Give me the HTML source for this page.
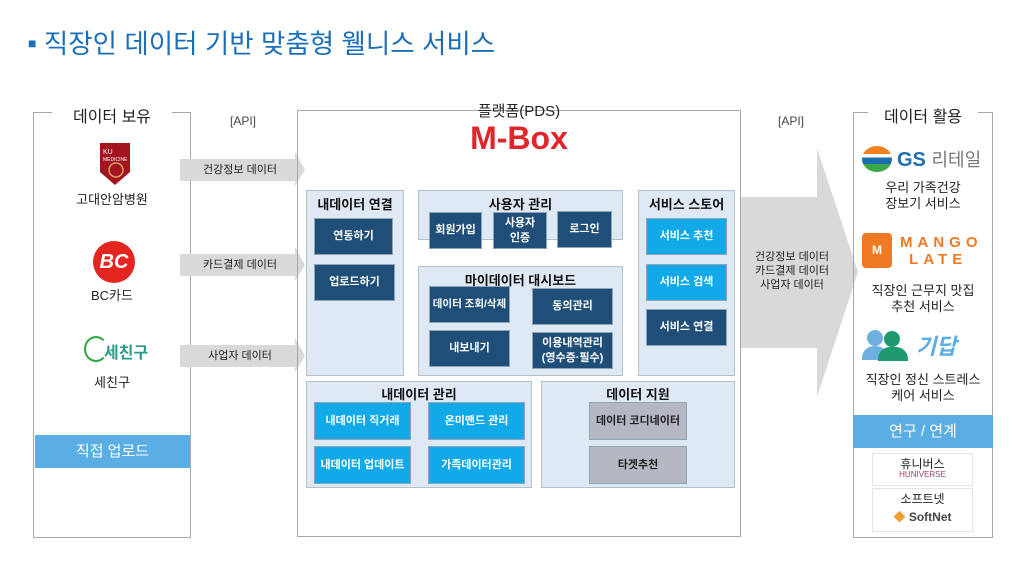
<!DOCTYPE html>
<html><head><meta charset="utf-8"><style>
*{margin:0;padding:0;box-sizing:border-box}
body{width:1024px;height:562px;background:#fff;position:relative;overflow:hidden;font-family:"Liberation Sans","Noto Sans CJK KR",sans-serif;color:#222}
.a{position:absolute}
.t{position:absolute;text-align:center;white-space:nowrap}
.box{position:absolute;border:1px solid #a8a8a8}
.pn{position:absolute;background:#dfe9f4;border:1px solid #b4c0cc}
.pt{position:absolute;left:0;right:0;text-align:center;font-size:13px;font-weight:bold;color:#111}
.b{position:absolute;display:flex;align-items:center;justify-content:center;text-align:center;color:#fff;font-size:11px;font-weight:bold;line-height:1.35;border:1px solid #8fa4b8}
.nv{background:#1f4e79}
.cy{background:#12a9e8}
.gr{background:#b3b8c3;color:#222}
</style></head><body>
<div class="a" style="left:28px;top:22px;font-size:26.5px;color:#1b6fb8;white-space:nowrap"><span style="font-size:14px;vertical-align:5px">■</span> 직장인 데이터 기반 맞춤형 웰니스 서비스</div>

<!-- left box -->
<div class="box" style="left:33px;top:112px;width:158px;height:426px"></div>
<div class="t" style="left:52px;top:103px;width:120px;background:#fff;font-size:16px">데이터 보유</div>
<svg class="a" style="left:99px;top:142px" width="32" height="44"><path d="M1 1H31V30L16 43L1 30Z" fill="#a3141e"/><text x="4" y="12" font-size="7" fill="#fff" font-family="Liberation Sans">KU</text><text x="4" y="19" font-size="5" fill="#fff" font-family="Liberation Sans">MEDICINE</text><circle cx="17" cy="28" r="7" fill="none" stroke="#d9a060" stroke-width="1.5"/></svg>
<div class="t" style="left:33px;top:189px;width:158px;font-size:13px">고대안암병원</div>
<div class="a" style="left:93px;top:241px;width:42px;height:42px;border-radius:50%;background:#e3261f;color:#fff;font-weight:bold;font-size:20px;text-align:center;line-height:42px;font-style:italic">BC</div>
<div class="t" style="left:33px;top:285px;width:158px;font-size:13px">BC카드</div>
<div class="a" style="left:84px;top:336px;width:24px;height:26px;border:2px solid #2aa63c;border-radius:50%;border-right-color:transparent"></div>
<div class="t" style="left:104px;top:339px;font-size:16px;font-weight:bold;color:#2a9a8a">세친구</div>
<div class="t" style="left:33px;top:372px;width:158px;font-size:13px">세친구</div>
<div class="t" style="left:35px;top:435px;width:155px;height:33px;line-height:33px;background:#5aaee3;color:#fff;font-size:15px">직접 업로드</div>

<!-- small arrows -->
<svg class="a" style="left:180px;top:150px" width="130" height="230">
<g fill="#d9d9d9"><path d="M0 9H115V2L125 20L115 36V31H0Z"/><path d="M0 104H115V97L125 115L115 131V126H0Z"/><path d="M0 195H115V188L125 206L115 222V217H0Z"/></g>
</svg>
<div class="t" style="left:180px;top:161px;width:120px;font-size:11px">건강정보 데이터</div>
<div class="t" style="left:180px;top:256px;width:120px;font-size:11px">카드결제 데이터</div>
<div class="t" style="left:180px;top:347px;width:120px;font-size:11px">사업자 데이터</div>
<div class="t" style="left:222px;top:114px;width:42px;font-size:12px;color:#444">[API]</div>
<div class="t" style="left:770px;top:114px;width:42px;font-size:12px;color:#444">[API]</div>

<!-- center box -->
<div class="box" style="left:297px;top:110px;width:444px;height:427px"></div>
<div class="t" style="left:297px;top:100px;width:444px;font-size:15px">플랫폼(PDS)</div>
<div class="t" style="left:297px;top:120px;width:444px;font-size:32px;font-weight:bold;color:#e0262b">M-Box</div>

<div class="pn" style="left:306px;top:190px;width:98px;height:186px"><div class="pt" style="top:3px">내데이터 연결</div></div>
<div class="b nv" style="left:314px;top:218px;width:79px;height:37px">연동하기</div>
<div class="b nv" style="left:314px;top:264px;width:81px;height:37px">업로드하기</div>

<div class="pn" style="left:418px;top:190px;width:205px;height:50px"><div class="pt" style="top:3px">사용자 관리</div></div>
<div class="b nv" style="left:429px;top:212px;width:53px;height:37px">회원가입</div>
<div class="b nv" style="left:493px;top:212px;width:54px;height:37px">사용자<br>인증</div>
<div class="b nv" style="left:557px;top:211px;width:55px;height:37px">로그인</div>

<div class="pn" style="left:418px;top:266px;width:205px;height:110px"><div class="pt" style="top:3px">마이데이터 대시보드</div></div>
<div class="b nv" style="left:429px;top:286px;width:81px;height:37px;font-size:10.5px">데이터 조회/삭제</div>
<div class="b nv" style="left:532px;top:288px;width:81px;height:37px">동의관리</div>
<div class="b nv" style="left:429px;top:330px;width:81px;height:37px">내보내기</div>
<div class="b nv" style="left:532px;top:332px;width:81px;height:37px">이용내역관리<br>(영수증·필수)</div>

<div class="pn" style="left:638px;top:190px;width:97px;height:186px"><div class="pt" style="top:3px">서비스 스토어</div></div>
<div class="b cy" style="left:646px;top:218px;width:81px;height:37px">서비스 추천</div>
<div class="b cy" style="left:646px;top:264px;width:81px;height:37px">서비스 검색</div>
<div class="b nv" style="left:646px;top:309px;width:81px;height:37px">서비스 연결</div>

<div class="pn" style="left:306px;top:381px;width:226px;height:107px"><div class="pt" style="top:2px">내데이터 관리</div></div>
<div class="b cy" style="left:314px;top:402px;width:97px;height:38px">내데이터 직거래</div>
<div class="b cy" style="left:428px;top:402px;width:97px;height:38px">온미맨드 관리</div>
<div class="b cy" style="left:314px;top:446px;width:97px;height:38px">내데이터 업데이트</div>
<div class="b cy" style="left:428px;top:446px;width:97px;height:38px">가족데이터관리</div>

<div class="pn" style="left:541px;top:381px;width:194px;height:107px"><div class="pt" style="top:2px">데이터 지원</div></div>
<div class="b gr" style="left:589px;top:402px;width:98px;height:38px">데이터 코디네이터</div>
<div class="b gr" style="left:589px;top:446px;width:98px;height:38px">타겟추천</div>

<!-- big arrow -->
<svg class="a" style="left:741px;top:145px" width="120" height="255"><path d="M0 52H76V3L117 127L76 252V203H0Z" fill="#d9d9d9"/></svg>
<div class="t" style="left:745px;top:250px;width:94px;font-size:11px;line-height:14px">건강정보 데이터<br>카드결제 데이터<br>사업자 데이터</div>

<!-- right box -->
<div class="box" style="left:853px;top:112px;width:140px;height:426px"></div>
<div class="t" style="left:868px;top:103px;width:110px;background:#fff;font-size:16px">데이터 활용</div>
<div class="a" style="left:862px;top:146px;width:30px;height:26px;border-radius:50%;background:linear-gradient(#f08020 30%,#fff 30%,#fff 45%,#1e6fb0 45%,#1e6fb0 70%,#3aa84a 70%)"></div>
<div class="t" style="left:897px;top:146px;font-size:20px;font-weight:bold;color:#1e6fb0">GS <span style="font-size:18px;font-weight:normal;color:#777">리테일</span></div>
<div class="t" style="left:853px;top:180px;width:140px;font-size:13px;line-height:16px">우리 가족건강<br>장보기 서비스</div>
<div class="a" style="left:862px;top:233px;width:30px;height:35px;background:#f07a23;border-radius:4px;color:#fff;font-size:12px;text-align:center;line-height:35px;font-weight:bold">M</div>
<div class="t" style="left:900px;top:234px;font-size:15px;letter-spacing:5px;color:#f07a23;line-height:17px;font-weight:bold;text-align:left">MANGO<br>&nbsp;LATE</div>
<div class="t" style="left:853px;top:283px;width:140px;font-size:13px;line-height:16px">직장인 근무지 맛집<br>추천 서비스</div>
<div class="a" style="left:867px;top:330px;width:16px;height:16px;border-radius:50%;background:#6cb0e0"></div>
<div class="a" style="left:862px;top:346px;width:26px;height:14px;border-radius:12px 12px 0 0;background:#6cb0e0"></div>
<div class="a" style="left:884px;top:331px;width:16px;height:16px;border-radius:50%;background:#1f9a6e"></div>
<div class="a" style="left:878px;top:347px;width:30px;height:14px;border-radius:12px 12px 0 0;background:#1f9a6e"></div>
<div class="t" style="left:916px;top:329px;font-size:22px;font-weight:bold;font-style:italic;color:#5aaee3">기답</div>
<div class="t" style="left:853px;top:372px;width:140px;font-size:13px;line-height:16px">직장인 정신 스트레스<br>케어 서비스</div>
<div class="t" style="left:853px;top:415px;width:140px;height:33px;line-height:33px;background:#5aaee3;color:#fff;font-size:15px">연구 / 연계</div>
<div class="a" style="left:872px;top:453px;width:101px;height:33px;border:1px solid #e4e4e4"></div>
<div class="t" style="left:872px;top:455px;width:101px;font-size:12px">휴니버스</div>
<div class="t" style="left:872px;top:470px;width:101px;font-size:8px;color:#a0406a">HUNIVERSE</div>
<div class="a" style="left:872px;top:488px;width:101px;height:44px;border:1px solid #e4e4e4"></div>
<div class="t" style="left:872px;top:490px;width:101px;font-size:12px">소프트넷</div>
<div class="t" style="left:872px;top:508px;width:101px;font-size:12px;font-weight:bold;color:#444"><span style="color:#f0a030">◆</span> SoftNet</div>
</body></html>
